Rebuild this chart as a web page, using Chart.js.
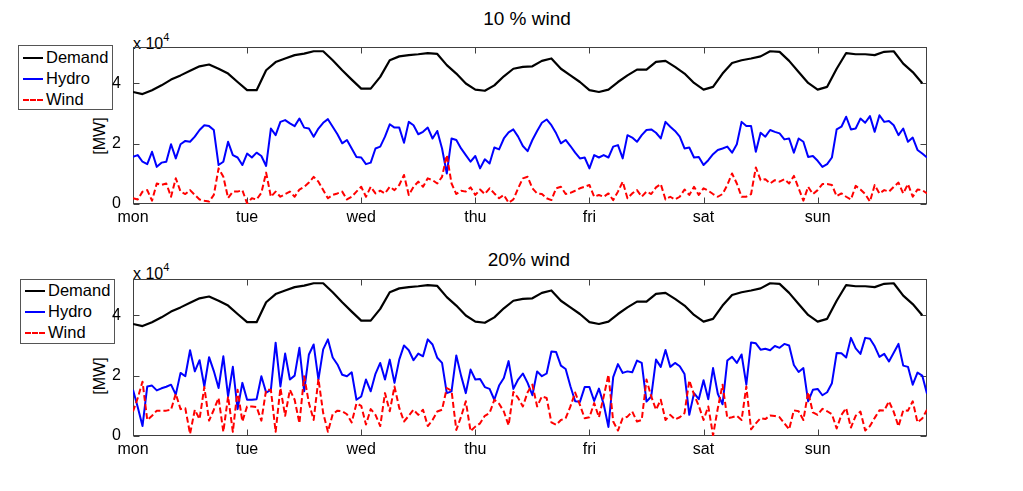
<!DOCTYPE html>
<html>
<head>
<meta charset="utf-8">
<script src="https://cdn.jsdelivr.net/npm/chart.js@4.4.0/dist/chart.umd.min.js"></script>
<style>
  body { margin: 0; background: #fff; width: 1023px; height: 491px; position: relative; overflow: hidden;
         font-family: "Liberation Sans", Arial, sans-serif; color: #000; }
  canvas { position: absolute; left: 0; }
  .title { position: absolute; font-size: 19px; line-height: 19px; transform: translateX(-50%); white-space: nowrap; }
  .mult { position: absolute; font-size: 16px; line-height: 16px; white-space: nowrap; }
  .mult sup { font-size: 11px; position: relative; top: -2px; }
  .ylab { position: absolute; font-size: 16px; line-height: 16px; white-space: nowrap; transform: translate(-50%, -50%) rotate(-90deg); }
  .legend { position: absolute; width: 93px; height: 63px; border: 1px solid #555; background: #fff; font-size: 16.5px; }
  .legend div { position: absolute; left: 4px; height: 21px; line-height: 21px; display: flex; align-items: center; }
  .legend span.s { display: inline-block; width: 20px; margin-right: 3px; border-top: 2px solid #000; }
</style>
</head>
<body>
<div class="title" style="left:527px; top:9px;">10 % wind</div>
<div class="title" style="left:529px; top:250px;">20% wind</div>

<div class="mult" style="left:133px; top:31px;">x 10<sup>4</sup></div>
<div class="mult" style="left:133px; top:261px;">x 10<sup>4</sup></div>

<div class="ylab" style="left:100px; top:136px;">[MW]</div>
<div class="ylab" style="left:100px; top:376px;">[MW]</div>

<div class="legend" style="left:18px; top:45px;">
  <div style="top:1px;"><span class="s"></span>Demand</div>
  <div style="top:22px;"><span class="s" style="border-top-color:#0000ff;"></span>Hydro</div>
  <div style="top:43px;"><span class="s" style="border-top:2px dashed #ff0000;"></span>Wind</div>
</div>
<div class="legend" style="left:20px; top:279px;">
  <div style="top:0px;"><span class="s"></span>Demand</div>
  <div style="top:21px;"><span class="s" style="border-top-color:#0000ff;"></span>Hydro</div>
  <div style="top:42px;"><span class="s" style="border-top:2px dashed #ff0000;"></span>Wind</div>
</div>

<canvas id="top" width="1023" height="245" style="top:0px;"></canvas>
<canvas id="bottom" width="1023" height="246" style="top:245px;"></canvas>

<script>
// values in units of 10^4 MW (axis shows "x 10^4")
const dayLabels = ['mon', 'tue', 'wed', 'thu', 'fri', 'sat', 'sun'];
const dayStartHours = [0, 24, 48, 72, 96, 120, 144];
const yTicks = [0, 2, 4];

// demand, one value every 2 hours (same in both panels)
const demand = [
  3.71, 3.64, 3.77, 3.93, 4.12, 4.26, 4.41, 4.56, 4.62, 4.48,
  4.32, 4.04, 3.77, 3.77, 4.43, 4.70, 4.82, 4.93, 4.98, 5.06,
  5.06, 4.76, 4.43, 4.12, 3.82, 3.82, 4.21, 4.76, 4.89, 4.93,
  4.96, 5.00, 4.97, 4.60, 4.32, 3.99, 3.79, 3.75, 3.93, 4.23,
  4.48, 4.54, 4.56, 4.74, 4.82, 4.48, 4.26, 4.04, 3.77, 3.71,
  3.79, 4.04, 4.26, 4.45, 4.45, 4.71, 4.74, 4.54, 4.32, 4.01,
  3.79, 3.88, 4.32, 4.67, 4.76, 4.82, 4.89, 5.06, 5.04, 4.74,
  4.37, 4.01, 3.79, 3.88, 4.48, 5.00, 4.96, 4.96, 4.93, 5.04,
  5.06, 4.65, 4.37, 4.00
];

// hourly, 10 % wind case
const hydro10 = [
  1.56, 1.62, 1.40, 1.32, 1.73, 1.23, 1.37, 1.40, 1.98, 1.51,
  1.98, 2.09, 2.06, 2.23, 2.45, 2.61, 2.58, 2.45, 1.29, 1.40,
  2.06, 1.62, 1.54, 1.29, 1.67, 1.54, 1.70, 1.59, 1.26, 2.50,
  2.28, 2.72, 2.78, 2.67, 2.58, 2.83, 2.53, 2.50, 2.23, 2.50,
  2.69, 2.81, 2.56, 2.31, 2.01, 2.12, 1.84, 1.56, 1.54, 1.32,
  1.37, 1.84, 1.90, 2.23, 2.64, 2.53, 2.53, 2.03, 2.72, 2.61,
  2.31, 2.39, 2.53, 2.17, 2.42, 1.84, 1.01, 2.17, 2.12, 1.84,
  1.62, 1.40, 1.59, 1.18, 1.48, 1.34, 1.87, 1.81, 2.17, 2.37,
  2.47, 2.23, 1.92, 1.75, 2.12, 2.42, 2.69, 2.80, 2.61, 2.34,
  2.01, 2.12, 1.92, 1.70, 1.51, 1.54, 1.18, 1.62, 1.54, 1.62,
  1.54, 1.90, 1.95, 1.51, 2.28, 2.20, 2.06, 2.28, 2.45, 2.47,
  2.36, 2.17, 2.72, 2.56, 2.42, 2.23, 1.84, 1.87, 1.54, 1.56,
  1.29, 1.45, 1.65, 1.79, 1.84, 1.90, 1.70, 1.98, 2.72, 2.58,
  2.58, 1.73, 2.36, 2.23, 2.45, 2.39, 2.34, 2.14, 2.17, 1.70,
  2.17, 2.06, 1.56, 1.59, 1.43, 1.23, 1.32, 1.54, 2.47, 2.56,
  2.89, 2.47, 2.50, 2.83, 2.69, 2.91, 2.39, 2.94, 2.72, 2.75,
  2.61, 2.28, 2.50, 2.06, 2.20, 1.79, 1.67, 1.54
];
const wind10 = [
  0.19, 0.15, 0.41, 0.46, 0.11, 0.68, 0.63, 0.68, 0.24, 0.85,
  0.41, 0.33, 0.46, 0.30, 0.15, 0.11, 0.08, 0.30, 1.18, 0.90,
  0.20, 0.41, 0.41, 0.46, 0.02, 0.19, 0.15, 0.37, 1.04, 0.24,
  0.41, 0.24, 0.33, 0.41, 0.24, 0.48, 0.57, 0.71, 0.90, 0.74,
  0.46, 0.19, 0.30, 0.35, 0.41, 0.15, 0.24, 0.41, 0.57, 0.24,
  0.57, 0.35, 0.44, 0.35, 0.57, 0.46, 0.63, 0.96, 0.30, 0.57,
  0.74, 0.57, 0.85, 0.79, 0.68, 0.90, 1.62, 0.68, 0.33, 0.44,
  0.41, 0.55, 0.30, 0.48, 0.33, 0.52, 0.35, 0.19, 0.30, 0.04,
  0.15, 0.52, 0.85, 0.90, 0.52, 0.35, 0.33, 0.19, 0.13, 0.52,
  0.57, 0.33, 0.37, 0.44, 0.52, 0.57, 0.63, 0.24, 0.30, 0.24,
  0.35, 0.13, 0.41, 0.74, 0.19, 0.35, 0.46, 0.24, 0.41, 0.33,
  0.55, 0.66, 0.15, 0.24, 0.15, 0.24, 0.48, 0.30, 0.57, 0.30,
  0.52, 0.44, 0.33, 0.24, 0.33, 0.63, 1.01, 0.68, 0.24, 0.24,
  0.33, 1.21, 0.79, 0.82, 0.68, 0.79, 0.74, 0.82, 0.68, 0.93,
  0.52, 0.11, 0.57, 0.33, 0.46, 0.66, 0.66, 0.63, 0.26, 0.35,
  0.24, 0.15, 0.60, 0.48, 0.33, 0.08, 0.63, 0.35, 0.46, 0.41,
  0.57, 0.71, 0.35, 0.66, 0.24, 0.48, 0.46, 0.35
];

// hourly, 20 % wind case
const hydro20 = [
  1.53, 0.95, 0.33, 1.64, 1.67, 1.51, 1.58, 1.63, 1.70, 1.37,
  2.09, 1.98, 2.84, 2.14, 2.51, 1.64, 2.61, 2.15, 1.59, 2.64,
  1.31, 2.29, 0.89, 1.76, 1.20, 1.20, 1.22, 1.98, 1.44, 1.53,
  3.09, 1.64, 2.73, 1.87, 2.00, 2.92, 1.48, 2.70, 3.03, 1.87,
  2.87, 3.20, 2.60, 2.37, 2.03, 1.98, 2.11, 1.20, 1.31, 1.87,
  1.48, 2.06, 2.42, 1.87, 2.53, 1.76, 2.53, 3.00, 2.84, 2.51,
  2.73, 2.64, 3.20, 3.03, 2.59, 2.42, 1.42, 1.48, 2.67, 2.00,
  1.42, 2.20, 1.87, 1.89, 1.62, 1.56, 1.20, 1.67, 1.92, 2.48,
  1.56, 1.87, 2.07, 1.76, 1.35, 2.14, 1.98, 2.07, 2.80, 2.78,
  2.33, 2.22, 1.65, 1.15, 1.13, 1.62, 1.62, 1.16, 1.57, 1.05,
  0.30, 1.95, 2.38, 2.09, 2.14, 2.11, 2.50, 2.42, 1.14, 1.31,
  2.53, 2.29, 2.85, 2.29, 2.42, 2.31, 2.05, 0.70, 1.42, 1.22,
  1.85, 1.22, 2.25, 1.40, 1.05, 2.50, 2.62, 2.42, 2.70, 1.70,
  3.10, 3.07, 2.86, 2.89, 2.84, 2.98, 2.92, 3.05, 3.00, 2.35,
  2.12, 2.25, 1.15, 1.53, 1.56, 1.35, 1.45, 1.75, 2.75, 2.74,
  2.60, 3.25, 2.90, 2.72, 3.25, 3.22, 2.97, 2.62, 2.72, 2.47,
  2.76, 3.05, 2.33, 2.29, 1.70, 2.10, 2.00, 1.40
];
const wind20 = [
  0.81, 1.26, 1.80, 0.53, 0.67, 0.84, 0.84, 0.84, 0.87, 1.40,
  0.89, 0.92, 0.07, 0.87, 0.56, 1.62, 0.51, 0.87, 1.26, 0.14,
  1.31, 0.14, 1.53, 0.48, 0.98, 0.98, 0.96, 0.51, 1.53, 1.53,
  0.14, 1.59, 0.67, 1.53, 1.20, 0.42, 1.98, 1.09, 0.53, 1.89,
  0.76, 0.14, 0.72, 0.84, 0.82, 0.72, 0.45, 1.08, 1.00, 0.38,
  0.89, 0.70, 0.33, 1.42, 0.82, 1.64, 0.93, 0.48, 0.67, 0.87,
  0.70, 0.87, 0.33, 0.53, 0.81, 0.87, 1.59, 1.50, 0.20, 0.64,
  1.15, 0.16, 0.31, 0.42, 0.67, 0.76, 1.20, 1.07, 0.81, 0.35,
  1.46, 1.26, 0.98, 1.45, 1.70, 0.98, 1.31, 1.26, 0.45, 0.37,
  0.53, 0.59, 0.98, 1.44, 1.03, 0.59, 0.62, 1.09, 0.62, 1.31,
  2.03, 0.48, 0.18, 0.59, 0.64, 0.81, 0.48, 0.53, 1.87, 1.31,
  0.87, 1.20, 0.53, 0.70, 0.55, 0.62, 0.76, 1.84, 1.37, 1.00,
  0.53, 0.98, 0.02, 0.92, 1.70, 0.59, 0.62, 0.67, 0.53, 1.64,
  0.22, 0.42, 0.59, 0.56, 0.68, 0.66, 0.62, 0.42, 0.22, 0.85,
  0.82, 0.53, 1.45, 0.78, 0.70, 0.90, 0.82, 0.72, 0.25, 0.70,
  0.92, 0.28, 0.67, 0.81, 0.18, 0.33, 0.60, 0.85, 0.84, 1.15,
  0.80, 0.32, 0.85, 0.84, 1.15, 0.45, 0.58, 0.87
];

function toPoints(values, stepHours) {
    return values.map((v, i) => ({ x: i * stepHours, y: v }));
}

// box round the plot area with inward tick marks (matlab style)
const axesBox = {
    id: 'axesBox',
    beforeDatasetsDraw(chart) {
        const { ctx, chartArea: a, scales: { x, y } } = chart;
        const L = Math.round(a.left) + 0.5, R = Math.round(a.right) - 0.5;
        const T = Math.round(a.top) + 0.5, B = Math.round(a.bottom) - 0.5;
        ctx.save();
        ctx.strokeStyle = '#404040';
        ctx.lineWidth = 1;
        ctx.strokeRect(L, T, R - L, B - T);
        ctx.beginPath();
        x.ticks.forEach(t => {
            const px = Math.round(x.getPixelForValue(t.value)) + 0.5;
            ctx.moveTo(px, B); ctx.lineTo(px, B - 6);
            ctx.moveTo(px, T); ctx.lineTo(px, T + 6);
        });
        y.ticks.forEach(t => {
            const py = Math.round(y.getPixelForValue(t.value)) + 0.5;
            ctx.moveTo(L, py); ctx.lineTo(L + 6, py);
            ctx.moveTo(R, py); ctx.lineTo(R - 6, py);
        });
        ctx.stroke();
        ctx.restore();
    }
};

const tickFont = { family: '"Liberation Sans", Arial, sans-serif', size: 16 };

function makeChart(id, hydro, wind, padding) {
    return new Chart(document.getElementById(id), {
        type: 'line',
        data: {
            datasets: [
                { label: 'Wind', data: toPoints(wind, 1), borderColor: '#ff0000', borderDash: [6, 3], borderWidth: 2, order: 1 },
                { label: 'Hydro', data: toPoints(hydro, 1), borderColor: '#0000ff', borderWidth: 2, order: 2 },
                { label: 'Demand', data: toPoints(demand, 2), borderColor: '#000000', borderWidth: 2.2, order: 3 }
            ]
        },
        options: {
            responsive: false,
            animation: false,
            events: [],
            elements: {
                point: { radius: 0 },
                line: { tension: 0, fill: false, borderJoinStyle: 'round' }
            },
            layout: { padding: padding },
            plugins: { legend: { display: false }, tooltip: { enabled: false } },
            scales: {
                x: {
                    type: 'linear', min: 0, max: 167,
                    grid: { display: false }, border: { display: false },
                    afterBuildTicks: s => { s.ticks = dayStartHours.map(v => ({ value: v })); },
                    afterFit: s => { s.height = 30; },
                    ticks: { autoSkip: false, maxRotation: 0, padding: -4, color: '#000', font: tickFont,
                             callback: (v, i) => dayLabels[i] }
                },
                y: {
                    min: 0, max: 5.2,
                    grid: { display: false }, border: { display: false },
                    afterBuildTicks: s => { s.ticks = yTicks.map(v => ({ value: v })); },
                    afterFit: s => { s.width = 133; },
                    ticks: { padding: 4, color: '#000', font: tickFont }
                }
            }
        },
        plugins: [axesBox]
    });
}

makeChart('top', hydro10, wind10, { left: 0, right: 96, top: 47, bottom: 11 });
makeChart('bottom', hydro20, wind20, { left: 0, right: 96, top: 34, bottom: 25 });
</script>
</body>
</html>
